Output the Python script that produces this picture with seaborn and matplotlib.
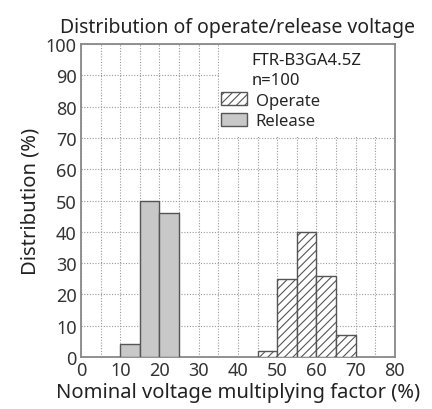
import matplotlib
matplotlib.use("Agg")
import matplotlib.pyplot as plt
import seaborn as sns
from matplotlib.patches import Rectangle

# histogram bins (% of nominal voltage) and counts (%)
release_bins = [10, 15, 20]
release_vals = [4, 50, 46]
operate_bins = [45, 50, 55, 60, 65]
operate_vals = [2, 25, 40, 26, 7]
bin_width = 5

model_name = "FTR-B3GA4.5Z"
sample_text = "n=100"

sns.set_style("white")
plt.rcParams["font.family"] = ["Noto Sans", "DejaVu Sans"]
plt.rcParams["hatch.color"] = "#444444"
plt.rcParams["hatch.linewidth"] = 0.8

fig, ax = plt.subplots(figsize=(4.32, 4.10), dpi=100)
fig.subplots_adjust(left=0.1875, right=0.914, bottom=0.127, top=0.89)

# release bars (gray)
rel_centers = [b + bin_width / 2 for b in release_bins]
rel_edges = release_bins + [release_bins[-1] + bin_width]
sns.histplot(x=rel_centers, weights=release_vals, bins=rel_edges, ax=ax,
             color="#c8c8c8", alpha=1, edgecolor="#555555", linewidth=1,
             label="Release", zorder=3)

# operate bars (hatched)
op_centers = [b + bin_width / 2 for b in operate_bins]
op_edges = operate_bins + [operate_bins[-1] + bin_width]
sns.histplot(x=op_centers, weights=operate_vals, bins=op_edges, ax=ax,
             color="white", alpha=1, edgecolor="#555555", linewidth=1,
             hatch="////", label="Operate", zorder=3)

ax.set_xlim(0, 80)
ax.set_ylim(0, 100)
ax.set_xticks(range(0, 81, 10))
ax.set_yticks(range(0, 101, 10))
ax.set_xticks(range(5, 80, 10), minor=True)
ax.grid(True, which="both", linestyle=(0, (1, 1.5)), color="#999999", linewidth=0.8, zorder=0)
ax.set_axisbelow(True)
ax.tick_params(length=0, labelsize=13, pad=3, colors="#333333")

# white box behind the legend text, hides grid
ax.add_patch(Rectangle((35.3, 70.2), 44.7, 29.8, facecolor="white",
                       edgecolor="none", zorder=1))

for s in ax.spines.values():
    s.set_color("#888888")
    s.set_linewidth(1.3)

ax.text(43.4, 95.0, model_name, fontsize=12, ha="left", va="center", color="#222222")
ax.text(43.4, 88.6, sample_text, fontsize=12, ha="left", va="center", color="#222222")

handles, labels = ax.get_legend_handles_labels()
order = [labels.index("Operate"), labels.index("Release")]
ax.legend([handles[i] for i in order], [labels[i] for i in order],
          loc="upper left", bbox_to_anchor=(0.418, 0.872), frameon=False,
          fontsize=12, handlelength=1.6, handleheight=0.8,
          handletextpad=0.5, labelspacing=0.25, borderpad=0)

ax.set_xlabel("Nominal voltage multiplying factor (%)", fontsize=14.5, color="#222222", labelpad=2)
ax.set_ylabel("Distribution (%)", fontsize=14.5, color="#222222", labelpad=4)
ax.set_title("Distribution of operate/release voltage", fontsize=14, color="#222222", pad=9)

fig.savefig("out.png", dpi=100)
